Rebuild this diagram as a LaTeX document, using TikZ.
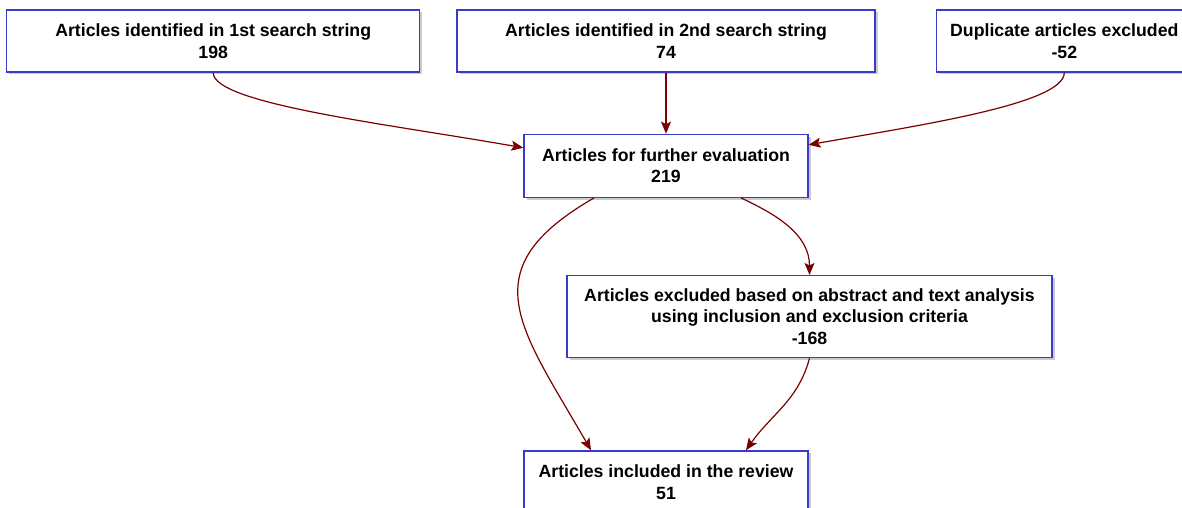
\documentclass[tikz,border=0pt]{standalone}
\usepackage{fontspec}
\setmainfont{Liberation Sans}
\usetikzlibrary{arrows.meta,positioning,shadows}
\definecolor{boxBlue}{HTML}{3A3ACC}
\definecolor{arrRed}{HTML}{7A0000}
\definecolor{shadowGrey}{HTML}{B4B4BE}

\begin{document}
\begin{tikzpicture}[
      x=1pt, y=1pt,
      node distance=36pt,
      flowbox/.style={
        rectangle, fill=white, draw=boxBlue, line width=1.3pt,
        text=black, align=center, font=\fontsize{17.7pt}{21.5pt}\selectfont\bfseries,
        inner sep=0pt, minimum height=62pt,
        drop shadow={shadow xshift=2.5pt, shadow yshift=-2.5pt, fill=shadowGrey, opacity=0.7}
      },
      flowarr/.style={-{Stealth[length=12pt, width=10pt, inset=2.5pt]}, draw=arrRed, line width=1.2pt}
    ]
      \useasboundingbox (0,0) rectangle (1182,-508);

      \node[flowbox, minimum width=418pt] (b2) at (666,-41) {Articles identified in 2nd search string\\74};
      \node[flowbox, minimum width=413pt, left=36pt of b2] (b1) {Articles identified in 1st search string\\198};
      \node[flowbox, minimum width=256pt, right=60pt of b2] (b3) {Duplicate articles excluded\\-52};
      \node[flowbox, minimum width=284pt, minimum height=63pt, below=61pt of b2] (b4) {Articles for further evaluation\\219};
      \node[flowbox, minimum width=485pt, minimum height=82pt, below=77pt of b4, xshift=143.5pt] (b5) {Articles excluded based on abstract and text analysis\\using inclusion and exclusion criteria\\-168};
      \node[flowbox, minimum width=284pt, minimum height=63pt, below=92pt of b5, xshift=-143.5pt] (b6) {Articles included in the review\\51};

      \draw[flowarr] (b1.south) to[out=-90, in=170, out looseness=0.25, in looseness=1.1] ([yshift=18pt]b4.west);
      \draw[flowarr] (b2.south) -- (b2.south |- b4.north);
      \draw[flowarr] (b3.south) to[out=-90, in=10, out looseness=0.3, in looseness=1.1] ([yshift=21pt]b4.east);
      \draw[flowarr] ([xshift=-72pt]b4.south) to[out=-150, in=120, looseness=1.45] ([xshift=-75pt]b6.north);
      \draw[flowarr] ([xshift=75pt]b4.south) to[out=-25, in=90] (b5.north);
      \draw[flowarr] (b5.south) to[out=-105, in=55] ([xshift=80pt]b6.north);
    \end{tikzpicture}
\end{document}
